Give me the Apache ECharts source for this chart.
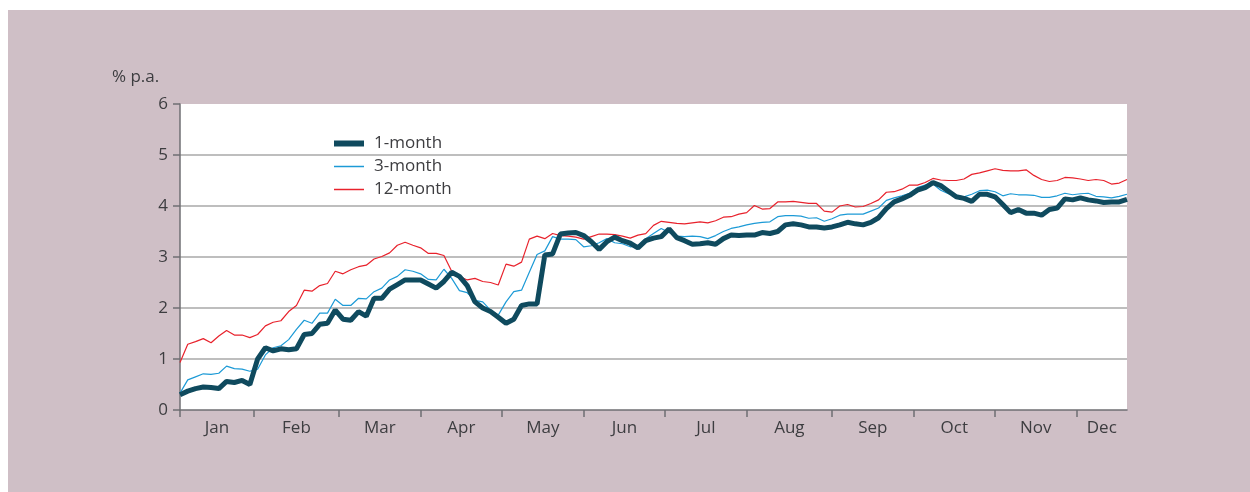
<!DOCTYPE html>
<html>
	<head>
		<meta charset="UTF-8">
		<title>Money market rates</title>
		<script src="https://cdn.jsdelivr.net/npm/echarts@6/dist/echarts.min.js"></script>
		<style>
			body { margin: 0; background: #fff; }
			#chart { position: absolute; left: 8px; top: 10px; width: 1242px; height: 482px; background: #cfbfc6; }
		</style>
	</head>
	<body>
		<div id="chart"></div>
		<script>
			// trading-day index of each month start, last index = end of data
			var monthNames = ['Jan', 'Feb', 'Mar', 'Apr', 'May', 'Jun', 'Jul', 'Aug', 'Sep', 'Oct', 'Nov', 'Dec'];
			var monthStarts = [0, 19, 41, 62, 83, 104, 125, 146, 168, 189, 210, 231];
			var lastDay = 244;
			var step = 2; // one reading every 2 trading days

			var oneMonth = [
				0.30, 0.37, 0.42, 0.45, 0.44, 0.42, 0.56, 0.54, 0.58, 0.50,
				1.00, 1.22, 1.16, 1.20, 1.18, 1.20, 1.48, 1.50, 1.68, 1.70,
				1.96, 1.78, 1.76, 1.93, 1.84, 2.19, 2.19, 2.37, 2.46, 2.55,
				2.55, 2.55, 2.47, 2.39, 2.52, 2.70, 2.62, 2.44, 2.12, 2.00,
				1.93, 1.82, 1.70, 1.78, 2.05, 2.08, 2.08, 3.04, 3.06, 3.45,
				3.47, 3.48, 3.42, 3.30, 3.15, 3.30, 3.39, 3.32, 3.27, 3.18,
				3.32, 3.37, 3.40, 3.55, 3.38, 3.32, 3.25, 3.26, 3.28, 3.25,
				3.36, 3.43, 3.42, 3.43, 3.43, 3.48, 3.46, 3.50, 3.63, 3.65,
				3.63, 3.59, 3.59, 3.57, 3.59, 3.63, 3.68, 3.65, 3.63, 3.68,
				3.77, 3.95, 4.08, 4.14, 4.21, 4.31, 4.36, 4.46, 4.40, 4.29,
				4.18, 4.15, 4.09, 4.23, 4.23, 4.18, 4.03, 3.87, 3.93, 3.86,
				3.86, 3.82, 3.93, 3.96, 4.14, 4.12, 4.16, 4.12, 4.10, 4.07,
				4.08, 4.08, 4.13
			];
			var threeMonth = [
				0.33, 0.59, 0.65, 0.71, 0.70, 0.72, 0.86, 0.81, 0.80, 0.76,
				0.80, 1.08, 1.22, 1.26, 1.38, 1.58, 1.76, 1.70, 1.90, 1.90,
				2.17, 2.05, 2.05, 2.19, 2.18, 2.32, 2.39, 2.55, 2.62, 2.75,
				2.72, 2.67, 2.56, 2.55, 2.76, 2.58, 2.34, 2.30, 2.15, 2.12,
				1.96, 1.86, 2.12, 2.32, 2.35, 2.70, 3.05, 3.12, 3.40, 3.35,
				3.35, 3.34, 3.20, 3.22, 3.28, 3.36, 3.28, 3.26, 3.20, 3.22,
				3.36, 3.46, 3.56, 3.48, 3.41, 3.40, 3.41, 3.40, 3.36, 3.42,
				3.50, 3.56, 3.59, 3.63, 3.66, 3.68, 3.69, 3.79, 3.81, 3.81,
				3.80, 3.76, 3.77, 3.70, 3.75, 3.82, 3.84, 3.84, 3.84, 3.90,
				3.96, 4.11, 4.16, 4.20, 4.25, 4.36, 4.41, 4.43, 4.31, 4.24,
				4.21, 4.18, 4.23, 4.30, 4.31, 4.28, 4.20, 4.24, 4.22, 4.22,
				4.21, 4.17, 4.17, 4.20, 4.25, 4.22, 4.24, 4.25, 4.19, 4.18,
				4.16, 4.19, 4.23
			];
			var twelveMonth = [
				0.93, 1.29, 1.34, 1.40, 1.32, 1.45, 1.56, 1.47, 1.47, 1.42,
				1.48, 1.65, 1.72, 1.75, 1.93, 2.05, 2.35, 2.33, 2.44, 2.48,
				2.72, 2.67, 2.75, 2.81, 2.84, 2.96, 3.01, 3.08, 3.23, 3.29,
				3.23, 3.18, 3.07, 3.07, 3.03, 2.72, 2.62, 2.55, 2.58, 2.52,
				2.50, 2.45, 2.86, 2.82, 2.90, 3.35, 3.41, 3.36, 3.46, 3.42,
				3.41, 3.39, 3.35, 3.40, 3.45, 3.45, 3.44, 3.41, 3.37, 3.43,
				3.46, 3.62, 3.70, 3.68, 3.66, 3.65, 3.67, 3.69, 3.67, 3.71,
				3.78, 3.79, 3.84, 3.87, 4.01, 3.94, 3.95, 4.08, 4.08, 4.09,
				4.07, 4.05, 4.05, 3.90, 3.88, 4.00, 4.03, 3.98, 3.99, 4.05,
				4.12, 4.27, 4.28, 4.33, 4.41, 4.41, 4.46, 4.54, 4.51, 4.50,
				4.50, 4.53, 4.62, 4.65, 4.69, 4.73, 4.70, 4.69, 4.69, 4.71,
				4.60, 4.52, 4.48, 4.50, 4.56, 4.55, 4.53, 4.50, 4.52, 4.50,
				4.43, 4.45, 4.52
			];

			function pairs(values) {
				return values.map(function(v, i) { return [i * step, v]; });
			}

			// month labels sit in the middle of each month
			var labelPos = monthStarts.map(function(s, i) {
				var e = i < monthStarts.length - 1 ? monthStarts[i + 1] : lastDay;
				return (s + e) / 2;
			});

			var font = '"Open Sans", Roboto, sans-serif';
			var axisGrey = '#6f6f73';
			var textCol = '#3d3d40';

			var chart = echarts.init(document.getElementById('chart'), null, { renderer: 'canvas' });
			chart.setOption({
				animation: false,
				textStyle: { fontFamily: font },
				grid: {
					left: 172, top: 94, width: 947, height: 306,
					show: true, backgroundColor: '#ffffff', borderWidth: 0
				},
				graphic: [{
					type: 'text', left: 104, top: 59,
					style: { text: '% p.a.', font: '17px ' + font, fill: textCol }
				}],
				legend: {
					orient: 'vertical',
					left: 318, top: 120,
					itemWidth: 30, itemHeight: 14, itemGap: 6,
					itemStyle: { opacity: 0 },
					textStyle: { color: textCol, fontSize: 17, fontFamily: font, padding: [0, 0, 0, 5] },
					data: [
						{ name: '1-month', lineStyle: { width: 6 } },
						{ name: '3-month', lineStyle: { width: 1.5 } },
						{ name: '12-month', lineStyle: { width: 1.5 } }
					]
				},
				xAxis: {
					type: 'value',
					min: 0, max: lastDay,
					axisLine: { show: true, lineStyle: { color: axisGrey, width: 1.5 } },
					axisTick: {
						show: true, length: 7, inside: false,
						customValues: monthStarts,
						lineStyle: { color: axisGrey, width: 1.5 }
					},
					axisLabel: {
						customValues: labelPos,
						margin: 10,
						color: textCol, fontSize: 17, fontFamily: font,
						formatter: function(v) {
							var i = labelPos.indexOf(v);
							return i >= 0 ? monthNames[i] : '';
						}
					},
					splitLine: { show: false }
				},
				yAxis: {
					type: 'value',
					min: 0, max: 6, interval: 1,
					axisLine: { show: true, lineStyle: { color: axisGrey, width: 1.5 } },
					axisTick: { show: true, length: 7, lineStyle: { color: axisGrey, width: 1.5 } },
					axisLabel: { margin: 12, color: textCol, fontSize: 17, fontFamily: font },
					splitLine: {
						show: true, showMinLine: false, showMaxLine: false,
						lineStyle: { color: '#a8a8a8', width: 1.5 }
					}
				},
				series: [
					{
						name: '12-month', type: 'line', data: pairs(twelveMonth),
						showSymbol: false, symbol: 'none', z: 2,
						lineStyle: { color: '#e8222c', width: 1.2 },
						itemStyle: { color: '#e8222c' }
					},
					{
						name: '3-month', type: 'line', data: pairs(threeMonth),
						showSymbol: false, symbol: 'none', z: 3,
						lineStyle: { color: '#1c9ad6', width: 1.2 },
						itemStyle: { color: '#1c9ad6' }
					},
					{
						name: '1-month', type: 'line', data: pairs(oneMonth),
						showSymbol: false, symbol: 'none', z: 4,
						lineStyle: { color: '#0f4a5e', width: 5 },
						itemStyle: { color: '#0f4a5e' }
					}
				]
			});
		</script>
	</body>
</html>
